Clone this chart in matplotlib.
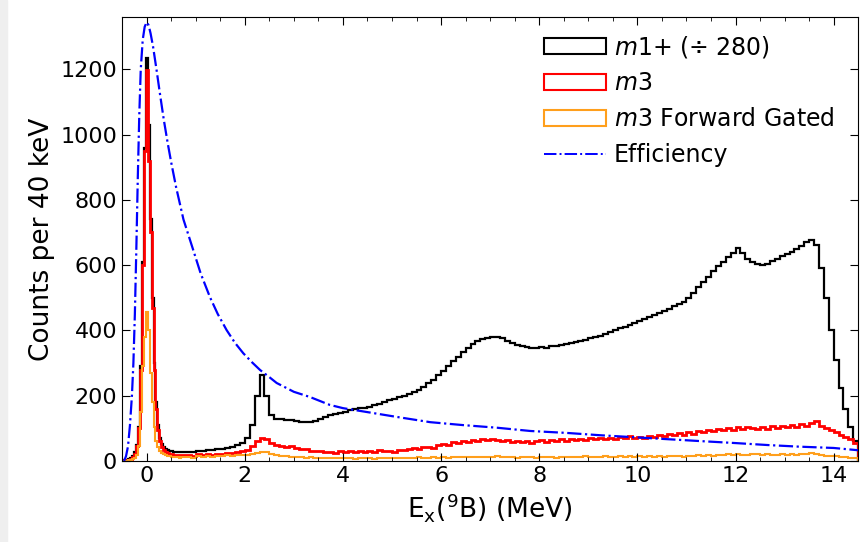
import numpy as np
import matplotlib
matplotlib.use("Agg")
import matplotlib.pyplot as plt
from matplotlib.patches import Rectangle, Patch
from matplotlib.lines import Line2D
from matplotlib.ticker import MultipleLocator

# bordes de los bins: 40 keV cerca del pico, 100 keV despues
bordes = np.concatenate([np.linspace(-0.5, 0.7, 31)[:-1], np.linspace(0.7, 14.5, 139)])

# m1+ (dividido por 280)
m1_fino = [2, 3, 4, 6, 9, 15, 28, 50, 105, 290, 610, 960, 1233, 1030, 740,
           500, 300, 180, 110, 70, 52, 44, 38, 34, 31, 30, 28, 27, 27, 27]
m1_grueso = [27, 28, 28, 30, 31, 33, 34, 36, 38, 41, 44, 48, 55, 72, 110, 200, 263, 200, 140, 128,
             130, 127, 125, 124, 121, 119, 120, 123, 128, 135, 140, 144, 147, 150, 155, 159, 161, 163, 166, 171,
             176, 181, 186, 191, 195, 199, 204, 210, 218, 228, 238, 249, 262, 276, 290, 305, 320, 335, 347, 358,
             367, 373, 378, 380, 379, 376, 368, 361, 356, 352, 349, 345, 346, 348, 345, 351, 353, 355, 358, 362,
             366, 369, 372, 376, 379, 383, 388, 395, 400, 406, 412, 418, 423, 428, 436, 441, 447, 452, 459, 466,
             474, 480, 488, 498, 515, 533, 548, 563, 582, 596, 610, 625, 636, 652, 638, 620, 609, 603, 600, 605,
             612, 620, 628, 633, 640, 650, 660, 672, 678, 662, 590, 500, 400, 310, 225, 160, 105, 60]

# m3
m3_fino = [1, 2, 3, 4, 7, 12, 22, 45, 100, 280, 600, 950, 1197, 920, 700,
           470, 280, 160, 95, 60, 42, 33, 28, 25, 22, 21, 19, 18, 17, 18]
m3_grueso = [17, 19, 16, 20, 18, 22, 19, 23, 21, 25, 24, 28, 30, 35, 45, 62, 72, 66, 55, 50,
             47, 44, 45, 40, 38, 36, 32, 30, 31, 27, 29, 26, 30, 27, 31, 28, 30, 27, 31, 29,
             33, 30, 32, 29, 34, 33, 37, 39, 36, 42, 44, 41, 48, 53, 50, 57, 55, 62, 58, 64,
             61, 66, 63, 67, 64, 60, 65, 58, 62, 57, 61, 55, 60, 63, 58, 64, 60, 66, 62, 68,
             63, 67, 64, 70, 66, 72, 68, 71, 67, 74, 70, 76, 72, 75, 71, 78, 74, 80, 76, 82,
             79, 85, 81, 88, 84, 93, 89, 96, 91, 98, 94, 101, 96, 103, 98, 105, 100, 97, 104, 99,
             106, 102, 108, 103, 110, 105, 112, 107, 118, 122, 106, 100, 95, 88, 80, 74, 66, 55]

# m3 con corte forward
m3f_fino = [0, 1, 1, 2, 3, 5, 9, 18, 45, 150, 290, 380, 455, 400, 270,
            180, 105, 62, 42, 30, 24, 20, 17, 15, 14, 13, 12, 11, 11, 10]
m3f_grueso = [11, 13, 10, 14, 12, 15, 13, 16, 14, 17, 15, 18, 17, 19, 22, 26, 28, 27, 20, 17,
              15, 14, 12, 13, 11, 10, 11, 9, 10, 8, 9, 8, 10, 8, 9, 7, 9, 8, 9, 7,
              9, 8, 10, 8, 9, 8, 10, 9, 11, 9, 10, 11, 9, 12, 10, 12, 11, 13, 11, 12,
              13, 11, 13, 12, 14, 11, 13, 12, 10, 13, 11, 12, 10, 13, 11, 12, 10, 13, 12, 11,
              13, 12, 14, 12, 13, 11, 14, 12, 13, 15, 12, 14, 13, 15, 13, 14, 12, 15, 13, 16,
              14, 15, 13, 16, 14, 17, 15, 18, 16, 19, 17, 20, 18, 21, 17, 19, 22, 20, 18, 21,
              19, 17, 20, 18, 21, 19, 22, 20, 24, 23, 18, 16, 15, 14, 12, 13, 10, 9]

# eficiencia (escalada)
ef_x = [-0.46, -0.42, -0.38, -0.34, -0.30, -0.27, -0.24, -0.21, -0.18, -0.15, -0.12, -0.08, -0.04, 0.0,
        0.04, 0.08, 0.13, 0.20, 0.27, 0.35, 0.43, 0.50, 0.60, 0.75, 0.95, 1.10, 1.29, 1.45, 1.63, 1.80,
        1.97, 2.15, 2.31, 2.50, 2.65, 3.00, 3.33, 3.73, 4.0, 4.41, 5.10, 5.78, 6.45, 7.14, 7.82, 8.57,
        9.24, 9.92, 10.6, 11.29, 12.0, 12.65, 13.3, 14.0, 14.5]
ef_y = [0, 15, 45, 110, 200, 300, 450, 650, 870, 1060, 1200, 1290, 1330, 1344,
        1335, 1310, 1270, 1200, 1126, 1045, 973, 915, 839, 740, 646, 575, 502, 450, 401, 362,
        330, 302, 279, 257, 239, 212, 196, 172, 162, 152, 135, 119, 110, 102, 92, 86,
        79, 73, 67, 61, 55, 49, 44, 40, 33]

m1 = np.array(m1_fino + m1_grueso)
m3 = np.array(m3_fino + m3_grueso)
m3f = np.array(m3f_fino + m3f_grueso)

naranja = '#ff9f1c'

plt.rcParams['font.size'] = 16
fig = plt.figure(figsize=(8.66, 5.42), dpi=100)
fig.patches.append(Rectangle((0, 0), 7 / 866, 1, transform=fig.transFigure,
                             color='#efefef', zorder=-10))
ax = fig.add_axes([0.141, 0.1494, 0.850, 0.8192])

ax.stairs(m1, bordes, color='black', lw=1.6)
ax.stairs(m3, bordes, color='red', lw=2.0)
ax.stairs(m3f, bordes, color=naranja, lw=1.5)
ax.plot(ef_x, ef_y, color='blue', ls='-.', lw=1.6)

ax.set_xlim(-0.5, 14.5)
ax.set_ylim(0, 1360)
ax.xaxis.set_major_locator(MultipleLocator(2))
ax.xaxis.set_minor_locator(MultipleLocator(0.5))
ax.yaxis.set_major_locator(MultipleLocator(200))
ax.tick_params(which='both', direction='in', top=True, right=True)
ax.tick_params(which='major', length=6, labelsize=16)
ax.tick_params(which='minor', length=3)

ax.set_xlabel(r'E$_{\rm x}$($^{9}$B) (MeV)', fontsize=19)
ax.set_ylabel('Counts per 40 keV', fontsize=19)

manijas = [Patch(facecolor='none', edgecolor='black', lw=1.5),
           Patch(facecolor='none', edgecolor='red', lw=1.5),
           Patch(facecolor='none', edgecolor=naranja, lw=1.5),
           Line2D([], [], color='blue', ls='-.', lw=1.4)]
etiquetas = [r'$m$1+ (÷ 280)', r'$m$3', r'$m$3 Forward Gated', 'Efficiency']
ax.legend(manijas, etiquetas, loc='upper right', bbox_to_anchor=(0.9905, 1.0),
          frameon=False, fontsize=17, handlelength=2.6, handletextpad=0.35,
          borderaxespad=0.3, labelspacing=0.5)

fig.savefig('out.png', dpi=100)
